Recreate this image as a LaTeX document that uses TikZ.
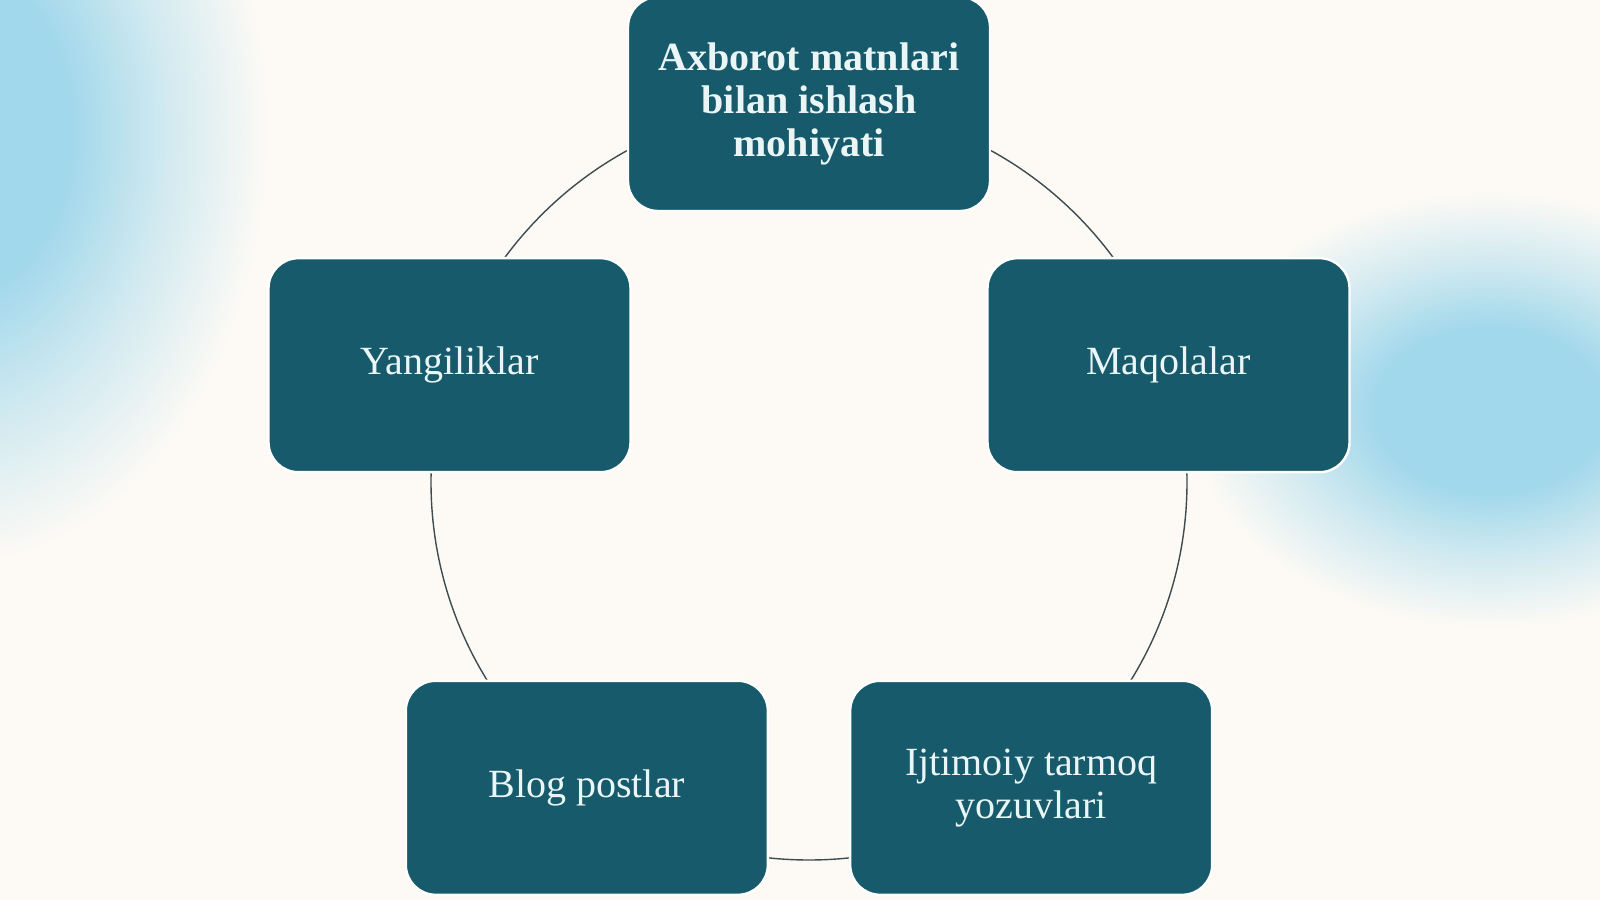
\documentclass[tikz,border=0pt]{standalone}
\usepackage{fontspec}
\setmainfont{Liberation Serif}
\usetikzlibrary{positioning}
\definecolor{bgcream}{HTML}{FDFAF5}
\definecolor{boxteal}{HTML}{175A6C}
\definecolor{boxtext}{HTML}{EAF6F6}
\definecolor{ringgray}{HTML}{3E4B50}
\definecolor{blobblue}{HTML}{A2D8EB}
\pgfdeclareradialshading{blob}{\pgfpoint{0bp}{0bp}}{color(0bp)=(blobblue); color(8bp)=(blobblue); color(14bp)=(blobblue!50!bgcream); color(21bp)=(bgcream); color(50bp)=(bgcream)}

\begin{document}
\begin{tikzpicture}[
            x=0.5pt, y=0.5pt,
            item/.style={
                rectangle, rounded corners=15pt, fill=boxteal, draw=white, line width=1.2pt,
                minimum width=181pt, minimum height=107pt, align=center,
                text=boxtext, font=\fontsize{20}{21.7}\selectfont
            },
            itemhead/.style={item, font=\fontsize{20}{21.7}\selectfont\bfseries},
            ring/.style={draw=ringgray, line width=0.7pt}
        ]
        \def\r{378}
        \useasboundingbox (0,0) rectangle (1600,900);
        \fill[bgcream] (0,0) rectangle (1600,900);
        % soft blue blobs
        \shade[shading=blob] (-50,770) ellipse (380 and 520);
        \shade[shading=blob] (1490,490) ellipse (360 and 260);

        \coordinate (hub) at (809,418);
        \draw[ring] (hub) circle (\r);

        \path (hub) ++(90:\r) node[itemhead] (essence) {Axborot matnlari\\bilan ishlash\\mohiyati};
        \path (hub) ++(18:\r) node[item] (articles) {Maqolalar};
        \path (hub) ++(-54:\r) node[item] (social) {Ijtimoiy tarmoq\\yozuvlari};
        \path (hub) ++(-126:\r) node[item] (blog) {Blog postlar};
        \path (hub) ++(162:\r) node[item] (news) {Yangiliklar};
    \end{tikzpicture}
\end{document}
